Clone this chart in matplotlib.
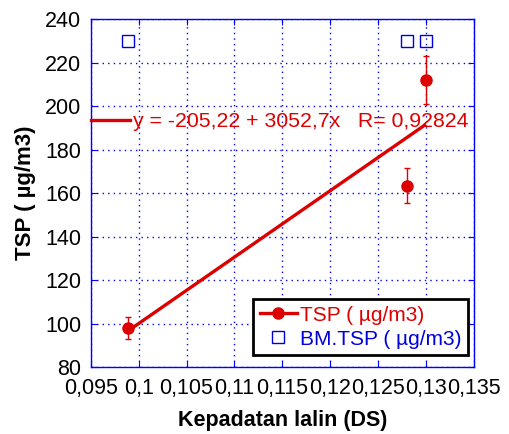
import matplotlib.pyplot as plt
from matplotlib.ticker import FuncFormatter, MultipleLocator
from matplotlib.lines import Line2D
import numpy as np

plt.rcParams['font.family'] = ['Liberation Sans', 'DejaVu Sans']

# data
ds = [0.0989, 0.128, 0.130]
tsp = [98, 163.5, 212]
tsp_err = [5, 8, 11]
bm_tsp = [230, 230, 230]

fit_intercept = -205.22
fit_slope = 3052.7
fit_r = 0.92824

red = '#dd0000'
blue = '#0000dd'

fig = plt.figure(figsize=(5.1, 4.34), dpi=100)
ax = fig.add_axes([0.178, 0.154, 0.751, 0.802])

# fitted line over the data range
xfit = np.array([min(ds), max(ds)])
fit_line, = ax.plot(xfit, fit_intercept + fit_slope * xfit, color=red, lw=2.4,
                    solid_capstyle='butt', zorder=3)

ax.errorbar(ds, tsp, yerr=tsp_err, fmt='o', color=red, ms=8, elinewidth=1,
            capsize=2.5, capthick=1, zorder=4)
ax.plot(ds, bm_tsp, 's', mfc='none', mec=blue, ms=8.5, mew=1, zorder=4)

ax.set_xlim(0.095, 0.135)
ax.set_ylim(80, 240)
ax.xaxis.set_major_locator(MultipleLocator(0.005))
ax.yaxis.set_major_locator(MultipleLocator(20))
fmt = FuncFormatter(lambda v, p: f"{round(v, 4):g}".replace('.', ','))
ax.xaxis.set_major_formatter(fmt)
ax.tick_params(direction='in', length=4, color='#0000ff', labelsize=15.5,
               top=True, right=True)
ax.tick_params(axis='y', pad=7)
ax.tick_params(axis='x', pad=8)
for s in ax.spines.values():
    s.set_color('#0000ff')
    s.set_linewidth(1)
ax.grid(True, color='#0000ff', linestyle=(0, (1, 3)), linewidth=1)

ax.set_xlabel('Kepadatan lalin (DS)', fontsize=15.5, fontweight='bold', labelpad=8)
ax.set_ylabel('TSP ( µg/m3)', fontsize=16, fontweight='bold', labelpad=6)

# fit legend
fit_txt = f"y = {fit_intercept:g} + {fit_slope:g}x   R= {fit_r:g}".replace('.', ',')
leg_fit = ax.legend([Line2D([], [], color=red, lw=2.4)], [fit_txt],
                    loc='center left', bbox_to_anchor=(0.0, 0.705),
                    frameon=False, fontsize=15.3, handlelength=1.85,
                    handletextpad=0.15, borderaxespad=0, borderpad=0,
                    labelcolor=red)
ax.add_artist(leg_fit)

h1 = Line2D([], [], color=red, lw=2.4, marker='o', ms=8)
h2 = Line2D([], [], ls='none', marker='s', mfc='none', mec=blue, ms=8, mew=1)
leg = ax.legend([h1, h2], ['TSP ( µg/m3)', 'BM.TSP ( µg/m3)'],
                loc='lower right', bbox_to_anchor=(0.985, 0.035),
                fontsize=15, handlelength=1.8, handletextpad=0.15,
                fancybox=False, framealpha=1, edgecolor='black',
                borderpad=0.3, labelspacing=0.25, borderaxespad=0)
leg.get_frame().set_linewidth(2)
leg.get_texts()[0].set_color(red)
leg.get_texts()[1].set_color(blue)

fig.savefig('out.png', dpi=100)
